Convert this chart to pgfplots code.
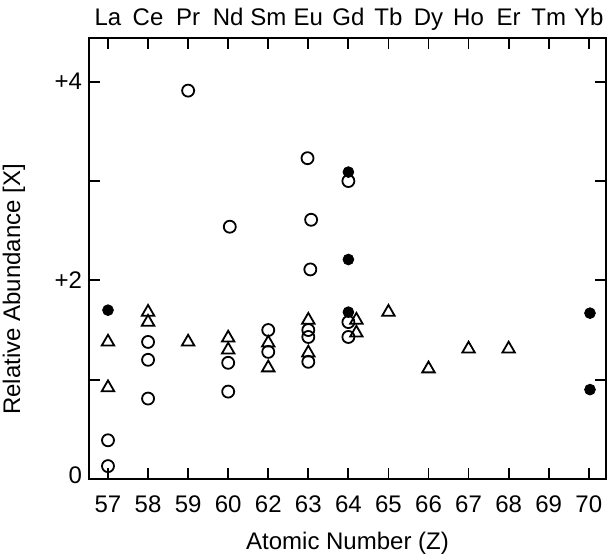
\documentclass[border=0pt]{standalone}
\usepackage{pgfplots}
\pgfplotsset{compat=1.18}
\usepackage{fontspec}
\setmainfont{Liberation Sans}
\begin{document}
\begin{tikzpicture}
\begin{axis}[
  scale only axis, width=258.5pt, height=220.5pt,
  xmin=-0.474, xmax=12.43, ymin=0, ymax=4.44,
  xtick={0,...,12},
  xticklabels={57,58,59,60,62,63,64,65,66,67,68,69,70},
  ytick={0,1,2,3,4}, yticklabels={\raisebox{4pt}{0},,+2,,+4},
  major tick length=5.5pt,
  tick style={line width=0.9pt, black},
  axis line style={line width=1.1pt},
  ticklabel style={font=\fontsize{12}{14}\selectfont},
  xticklabel style={anchor=base, yshift=-16.5pt},
  label style={font=\fontsize{12}{14}\selectfont},
  xlabel={Atomic Number (Z)}, ylabel={Relative Abundance [X]},
  xlabel style={at={(axis description cs:0.5,-0.145)}, anchor=center},
  ylabel style={at={(axis description cs:-0.145,0.43)}, anchor=center},
  clip=false,
]
\coordinate (SW) at (rel axis cs:0,0);
\coordinate (NE) at (rel axis cs:1,1);
% open circles
\addplot[only marks, mark=o, mark size=3pt, mark options={line width=0.9pt, black}] coordinates {
 (0,0.39) (0,0.13)
 (1,1.38) (1,1.20) (1,0.81)
 (2,3.91)
 (3.04,2.54) (3,1.17) (3,0.88)
 (4,1.50) (4,1.28)
 (4.98,3.23) (5.07,2.61) (5.05,2.11) (5,1.50) (5,1.43) (5,1.18)
 (6,3.00) (6,1.58) (6,1.43)
};
% triangles
\addplot[only marks, mark=triangle, mark size=3.6pt, mark options={line width=0.9pt, black}] coordinates {
 (0,1.38) (0,0.92)
 (1,1.68) (1,1.58)
 (2,1.38)
 (3,1.42) (3,1.30)
 (4,1.37) (4,1.12)
 (5,1.60) (5,1.27)
 (6.2,1.60) (6.2,1.47)
 (7,1.68)
 (8,1.11)
 (9,1.31)
 (10,1.31)
};
% filled circles
\addplot[only marks, mark=*, mark size=2.7pt, mark options={black, fill=black}] coordinates {
 (0,1.70)
 (6,3.09) (6,2.21) (6,1.68)
 (12.03,1.67) (12.03,0.90)
};
\end{axis}
\begin{axis}[
  scale only axis, width=258.5pt, height=220.5pt,
  xmin=-0.474, xmax=12.43, ymin=0, ymax=4.44,
  axis x line*=top, axis y line=none,
  x axis line style={draw=none},
  xtick={0,...,12},
  xticklabels={La,Ce,Pr,Nd,Sm,Eu,Gd,Tb,Dy,Ho,Er,Tm,Yb},
  major tick length=0pt,
  ticklabel style={font=\fontsize{12}{14}\selectfont},
  xticklabel style={anchor=base, yshift=6pt},
]
\end{axis}
\pgfresetboundingbox
\path[use as bounding box] ([shift={(-44.5pt,-39.5pt)}]SW) rectangle ([shift={(1pt,19pt)}]NE);
\end{tikzpicture}
\end{document}
